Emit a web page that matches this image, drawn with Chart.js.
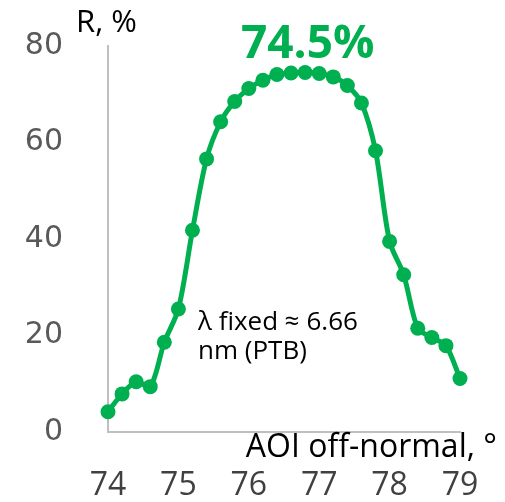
<!DOCTYPE html>
<html>
<head>
<meta charset="utf-8">
<script src="https://cdn.jsdelivr.net/npm/chart.js@4"></script>
<style>
  html, body { margin: 0; padding: 0; background: #ffffff; }
  #wrap { width: 505px; height: 502px; position: relative; }
</style>
</head>
<body>
<div id="wrap"><canvas id="c" width="505" height="502"></canvas></div>
<script>
// Angle of incidence (degrees off-normal) and measured reflectance (%)
const aoiDeg = [74.0, 74.2, 74.4, 74.6, 74.8, 75.0, 75.2, 75.4, 75.6, 75.8, 76.0, 76.2, 76.4,
                76.6, 76.8, 77.0, 77.2, 77.4, 77.6, 77.8, 78.0, 78.2, 78.4, 78.6, 78.8, 79.0];
const reflectance = [4.2, 7.9, 10.4, 9.4, 18.6, 25.5, 41.8, 56.6, 64.3, 68.5, 71.2, 72.9, 74.1,
                     74.4, 74.5, 74.3, 73.6, 71.8, 68.2, 58.3, 39.5, 32.6, 21.5, 19.6, 17.9, 11.1];
const peakValue = 74.5;

const yTicks = [0, 20, 40, 60, 80];
const xTicks = [74, 75, 76, 77, 78, 79];

const GREEN = '#00B050';

const points = aoiDeg.map((x, i) => ({ x: x, y: reflectance[i] }));

// Tick-label overflow is left to the layout padding below
function noLabelOverflow(scale) {
  scale.paddingTop = 0;
  scale.paddingBottom = 0;
  scale.paddingLeft = 0;
  scale.paddingRight = 0;
}

// Free-standing captions: axis names, peak value and wavelength note
const captions = {
  id: 'captions',
  afterDraw(chart) {
    const ctx = chart.ctx;
    ctx.save();
    ctx.textBaseline = 'alphabetic';

    ctx.fillStyle = '#000000';
    ctx.font = '31px "Open Sans"';
    ctx.textAlign = 'left';
    ctx.fillText('R, %', 76, 32);

    ctx.font = 'bold 46px "Open Sans"';
    ctx.fillStyle = GREEN;
    ctx.fillText(peakValue.toFixed(1) + '%', 241, 58);

    ctx.fillStyle = '#000000';
    ctx.font = '26px "Open Sans"';
    ctx.fillText('λ fixed ≈ 6.66', 198, 330);
    ctx.fillText('nm (PTB)', 198, 359);

    ctx.font = '32px "Open Sans"';
    ctx.textAlign = 'right';
    ctx.fillText('AOI off-normal, °', 497, 457);
    ctx.restore();
  }
};

new Chart(document.getElementById('c'), {
  type: 'line',
  data: {
    datasets: [{
      data: points,
      borderColor: GREEN,
      backgroundColor: GREEN,
      borderWidth: 5,
      pointRadius: 7.5,
      pointHoverRadius: 7.5,
      pointBorderWidth: 0,
      pointBackgroundColor: GREEN,
      tension: 0.3,
      clip: false,
      fill: false
    }]
  },
  options: {
    responsive: false,
    animation: false,
    events: [],
    layout: { padding: { top: 46, right: 45, left: 0, bottom: 0 } },
    plugins: { legend: { display: false }, tooltip: { enabled: false } },
    scales: {
      x: {
        type: 'linear',
        min: 74, max: 79,
        afterBuildTicks(scale) { scale.ticks = xTicks.map(v => ({ value: v })); },
        afterFit(scale) { scale.height = 70; noLabelOverflow(scale); },
        grid: { display: false, drawTicks: false },
        border: { display: true, color: '#BFBFBF', width: 2 },
        ticks: {
          padding: 35,
          maxRotation: 0,
          autoSkip: false,
          color: '#404040',
          font: { family: '"Open Sans"', size: 32 }
        }
      },
      y: {
        min: 0, max: 80,
        afterBuildTicks(scale) { scale.ticks = yTicks.map(v => ({ value: v })); },
        afterFit(scale) { scale.width = 108; noLabelOverflow(scale); },
        grid: { display: false, drawTicks: false },
        border: { display: true, color: '#BFBFBF', width: 2 },
        ticks: {
          padding: 45,
          color: '#595959',
          font: { family: '"DejaVu Sans"', size: 30 }
        }
      }
    }
  },
  plugins: [captions]
});
</script>
</body>
</html>
